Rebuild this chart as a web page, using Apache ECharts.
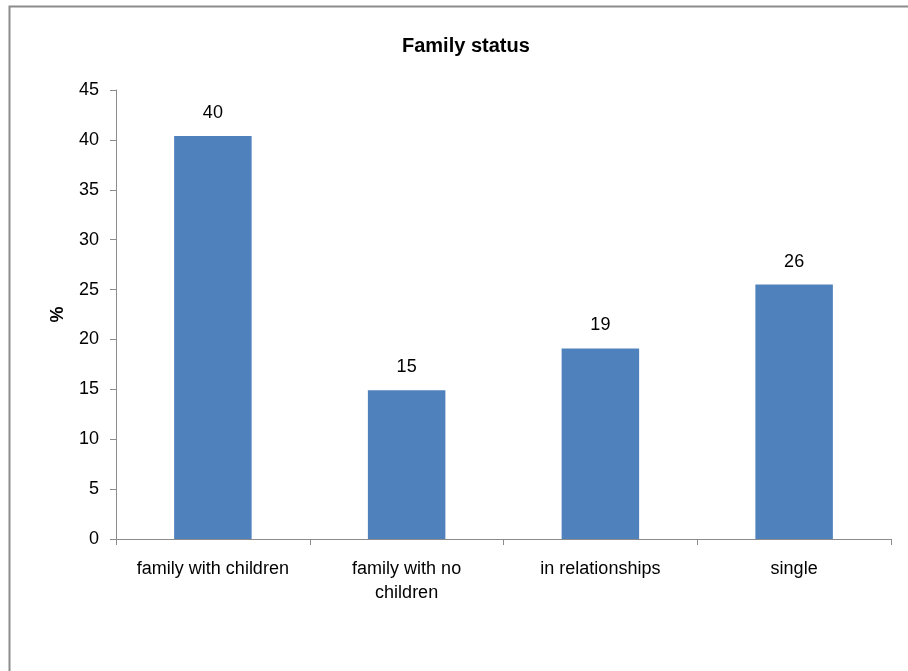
<!DOCTYPE html>
<html>
<head>
<meta charset="utf-8">
<script src="https://cdn.jsdelivr.net/npm/echarts@6/dist/echarts.min.js"></script>
<style>
html,body{margin:0;padding:0;background:#fff;}
#c{width:908px;height:671px;}
</style>
</head>
<body>
<div id="c"></div>
<script>
var categories = ['family with children', 'family with no children', 'in relationships', 'single'];
var tickLabels = ['family with children', 'family with no\nchildren', 'in relationships', 'single'];
var values = [40.4, 14.9, 19.1, 25.5];
var yTicks = [0, 5, 10, 15, 20, 25, 30, 35, 40, 45];

var FONT = '"Liberation Sans", Arial, sans-serif';
var chart = echarts.init(document.getElementById('c'), null, {renderer: 'canvas'});
chart.setOption({
  animation: false,
  backgroundColor: '#ffffff',
  graphic: [{
    type: 'rect', left: 7, top: 4, shape: {x: 0, y: 0, width: 1000, height: 1000},
    style: {fill: 'none', stroke: '#8c8c8c', lineWidth: 2}, silent: true
  }],
  title: {
    text: 'Family status', left: 397, top: 31,
    textStyle: {fontFamily: FONT, fontSize: 20, fontWeight: 'bold', color: '#000'}
  },
  grid: {left: 116, right: 17, top: 90, bottom: 132, containLabel: false},
  xAxis: {
    type: 'category',
    data: categories,
    axisLine: {lineStyle: {color: '#8c8c8c', width: 1}},
    axisTick: {show: true, length: 6, alignWithLabel: false, lineStyle: {color: '#8c8c8c'}},
    axisLabel: {
      fontFamily: FONT, fontSize: 18, color: '#000', margin: 18, lineHeight: 24,
      interval: 0,
      formatter: function (v, i) { return tickLabels[i]; }
    }
  },
  yAxis: {
    type: 'value', min: yTicks[0], max: yTicks[yTicks.length - 1], interval: 5,
    name: '%', nameLocation: 'middle', nameGap: 49, nameRotate: 90,
    nameTextStyle: {fontFamily: FONT, fontSize: 18, fontWeight: 'bold', color: '#000'},
    axisLine: {show: true, lineStyle: {color: '#8c8c8c', width: 1}},
    axisTick: {show: true, length: 6, lineStyle: {color: '#8c8c8c'}},
    splitLine: {show: false},
    axisLabel: {fontFamily: FONT, fontSize: 18, color: '#000', margin: 17}
  },
  series: [{
    type: 'bar',
    data: values,
    barWidth: '40%',
    itemStyle: {color: '#4F81BD'},
    label: {
      show: true, position: 'top', distance: 14,
      fontFamily: FONT, fontSize: 18, color: '#000',
      formatter: function (p) { return Math.round(p.value); }
    }
  }]
});
</script>
</body>
</html>
